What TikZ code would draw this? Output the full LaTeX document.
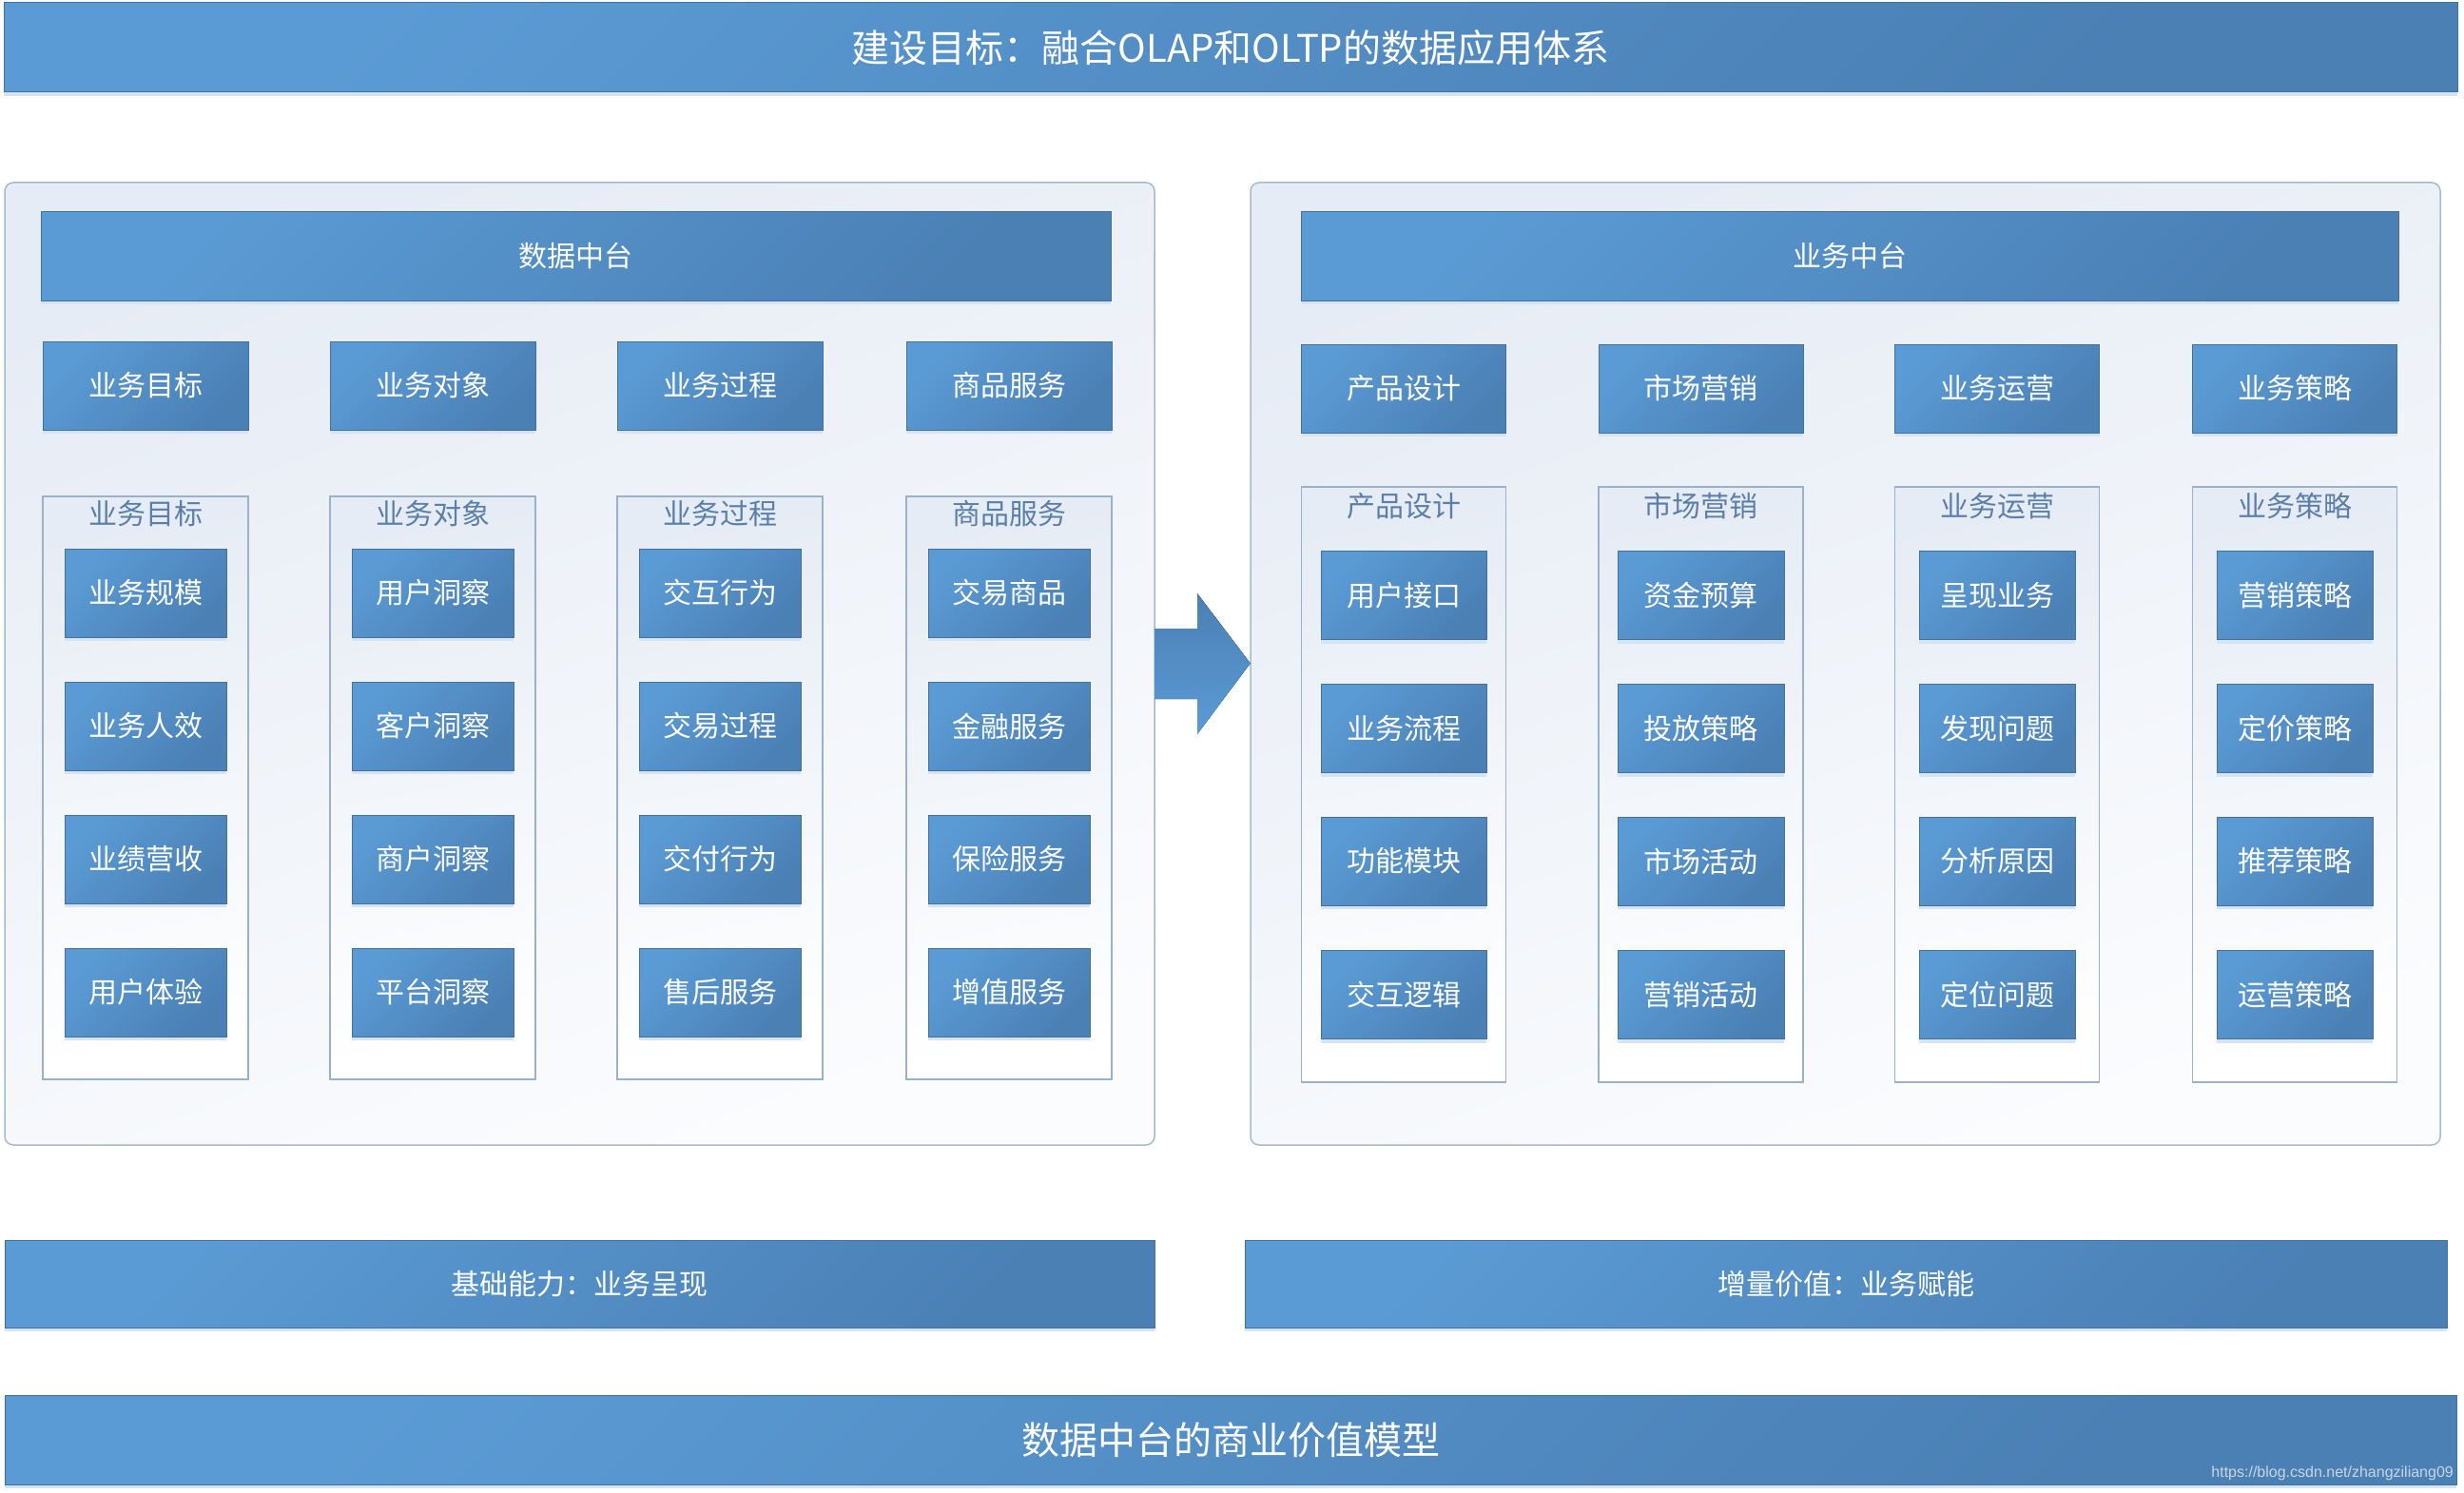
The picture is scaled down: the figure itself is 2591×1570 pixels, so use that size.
\documentclass[tikz,border=0pt]{standalone}
\usepackage{fontspec}
\newfontfamily\cjk{Noto Sans CJK SC}
\newfontfamily\wmfont{Liberation Sans}
\usetikzlibrary{shadows}
\definecolor{boxL}{HTML}{5B9BD5}
\definecolor{boxD}{HTML}{4A80B4}
\definecolor{boxB}{HTML}{41719C}
\definecolor{panB}{HTML}{A7BBCF}
\definecolor{panL}{HTML}{E6ECF5}
\definecolor{panW}{HTML}{FBFCFE}
\definecolor{grpB}{HTML}{9AB1C9}
\definecolor{grpT}{HTML}{5B7FA8}
\definecolor{shd}{HTML}{D6E4F2}
\definecolor{wmc}{HTML}{C9D6E3}
\tikzset{
  bluebox/.style={draw=boxB, line width=1pt, top color=boxL, bottom color=boxD, shading angle=45,
    text=white, inner sep=0pt, font=\cjk\fontsize{30}{36}\selectfont,
    drop shadow={shadow xshift=0pt, shadow yshift=-4pt, fill=shd, opacity=1}},
  bigbar/.style={bluebox, font=\cjk\fontsize{40}{48}\selectfont},
  panelbox/.style={draw=panB, line width=1.5pt, rounded corners=9pt, top color=panL, bottom color=panW, shading angle=20},
  grpbox/.style={draw=grpB, line width=1.2pt, top color=panL, bottom color=white, shading angle=10, inner sep=0pt},
  grptitle/.style={text=grpT, inner sep=0pt, font=\cjk\fontsize{30}{36}\selectfont},
}
\begin{document}
\begin{tikzpicture}[x=1pt,y=-1pt]
\useasboundingbox (0,0) rectangle (2591,1570);
\fill[white] (0,0) rectangle (2591,1570);

% top banner
\node[bigbar, minimum width=2580, minimum height=94] (top) at (1294,50) {建设目标：融合OLAP和OLTP的数据应用体系};

% panels
\path[panelbox] (5,192) rectangle (1214,1204);
\node[inner sep=0pt, minimum width=1209, minimum height=1012] (lpanel) at (609.5,698) {};
\path[panelbox] (1315,192) rectangle (2566,1204);
\node[inner sep=0pt, minimum width=1251, minimum height=1012] (rpanel) at (1940.5,698) {};

% headers
\node[bluebox, minimum width=1125, minimum height=93] (lhead) at (605.5,269.5) {数据中台};
\node[bluebox, minimum width=1154, minimum height=93] (rhead) at (1945,269.5) {业务中台};

% left columns
\foreach \cx/\t/\a/\b/\c/\d [count=\i] in {
  153/业务目标/业务规模/业务人效/业绩营收/用户体验,
  455/业务对象/用户洞察/客户洞察/商户洞察/平台洞察,
  757/业务过程/交互行为/交易过程/交付行为/售后服务,
  1061/商品服务/交易商品/金融服务/保险服务/增值服务}{
  \node[bluebox, minimum width=216, minimum height=93] (ltop\i) at (\cx,405.5) {\t};
  \node[grpbox, minimum width=216, minimum height=613] (lgrp\i) at (\cx,828.5) {};
  \node[grptitle] (lgt\i) at (\cx,540) {\t};
  \node[bluebox, minimum width=170, minimum height=93] (lb\i a) at (\cx,623.5) {\a};
  \node[bluebox, minimum width=170, minimum height=93] (lb\i b) at (\cx,763.5) {\b};
  \node[bluebox, minimum width=170, minimum height=93] (lb\i c) at (\cx,903.5) {\c};
  \node[bluebox, minimum width=170, minimum height=93] (lb\i d) at (\cx,1043.5) {\d};
}

% right columns
\foreach \cx/\bw/\t/\a/\b/\c/\d [count=\i] in {
  1476/174/产品设计/用户接口/业务流程/功能模块/交互逻辑,
  1788.5/175/市场营销/资金预算/投放策略/市场活动/营销活动,
  2100/164/业务运营/呈现业务/发现问题/分析原因/定位问题,
  2413/164/业务策略/营销策略/定价策略/推荐策略/运营策略}{
  \node[bluebox, minimum width=215, minimum height=93] (rtop\i) at (\cx,408.5) {\t};
  \node[grpbox, minimum width=215, minimum height=626] (rgrp\i) at (\cx,825) {};
  \node[grptitle] (rgt\i) at (\cx,532) {\t};
  \node[bluebox, minimum width=\bw, minimum height=93] (rb\i a) at (\cx,626) {\a};
  \node[bluebox, minimum width=\bw, minimum height=93] (rb\i b) at (\cx,766) {\b};
  \node[bluebox, minimum width=\bw, minimum height=93] (rb\i c) at (\cx,905.5) {\c};
  \node[bluebox, minimum width=\bw, minimum height=93] (rb\i d) at (\cx,1046) {\d};
}

% block arrow between panels
\fill[top color=boxD, bottom color=boxL, shading angle=0]
  (lpanel.east |- 0,661) -- (1259,661) -- (1259,624) -- (rpanel.west |- 0,697.5)
  -- (1259,772) -- (1259,735) -- (lpanel.east |- 0,735) -- cycle;

% bottom bars
\node[bluebox, minimum width=1209, minimum height=92] (base) at (609.5,1350) {基础能力：业务呈现};
\node[bluebox, minimum width=1264, minimum height=92] (incr) at (1941,1350) {增量价值：业务赋能};
\node[bigbar, minimum width=2578, minimum height=94] (bottom) at (1294,1514) {数据中台的商业价值模型};

% watermark
\node[anchor=south east, inner sep=0pt, text=wmc, font=\wmfont\fontsize{16}{19}\selectfont] (wm) at (2580,1557) {https://blog.csdn.net/zhangziliang09};
\end{tikzpicture}
\end{document}
